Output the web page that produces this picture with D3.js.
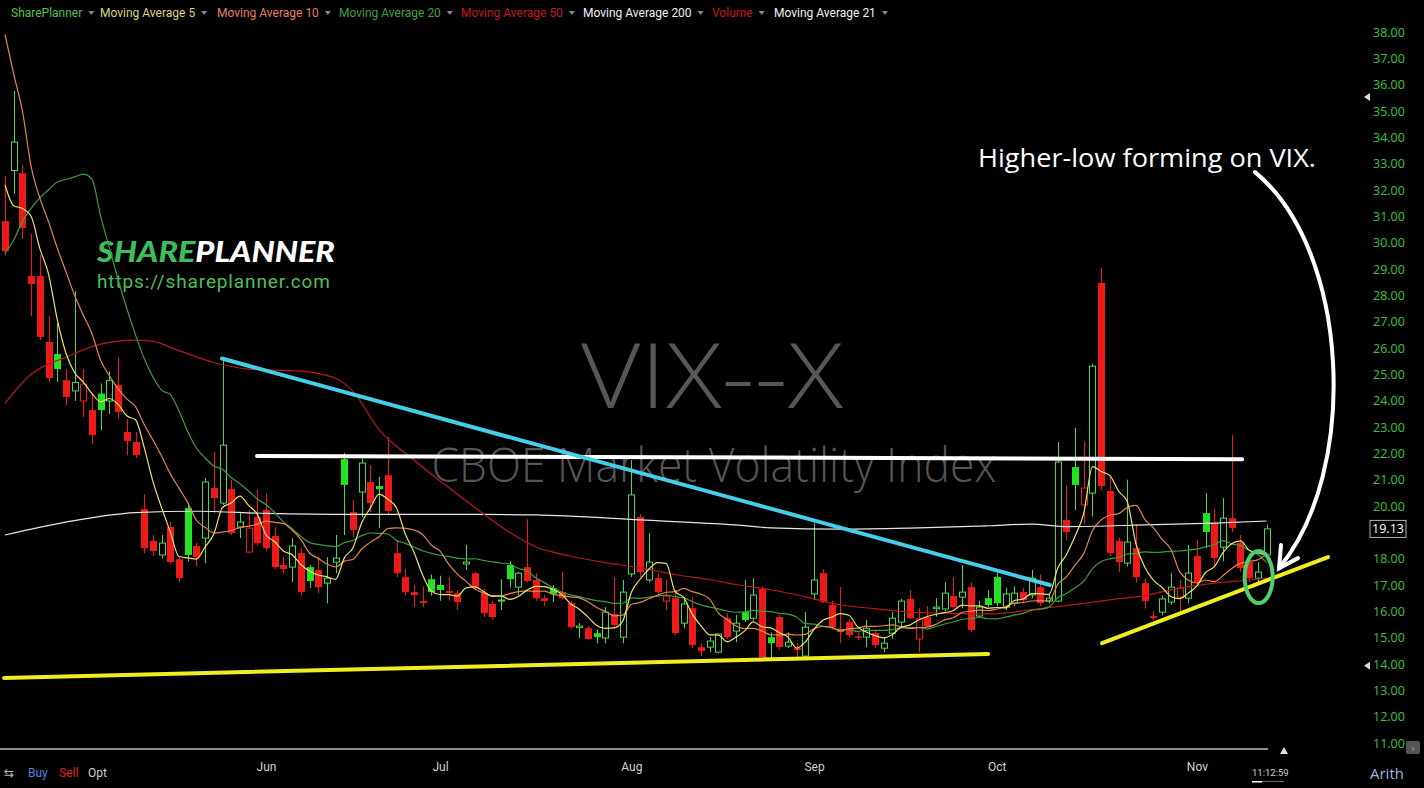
<!DOCTYPE html>
<html><head><meta charset="utf-8">
<script src="https://cdn.jsdelivr.net/npm/d3@7"></script>
<style>
html,body{margin:0;padding:0;background:#000;overflow:hidden;}
svg{display:block;}
</style></head><body>
<svg id="chart" width="1424" height="788"></svg>
<script>
// ---------------- DATA ----------------
const opens = [30.82,32.74,32.64,28.73,28.73,26.23,25.77,24.78,24.37,23.99,
23.64,24.27,23.99,24.59,22.81,22.43,19.88,18.67,18.14,19.20,
17.98,19.92,18.48,18.78,20.68,20.11,20.64,19.20,18.25,19.58,
19.85,18.86,17.76,17.68,18.21,17.68,17.57,17.07,17.87,21.78,
19.77,20.53,20.91,20.76,21.17,18.21,17.30,16.73,16.39,17.22,
17.00,16.77,16.69,17.80,17.45,16.69,16.28,16.39,17.76,16.92,
17.68,17.19,16.50,16.88,16.73,16.31,15.38,15.36,15.17,14.99,
15.90,15.02,17.42,19.58,17.19,17.26,16.39,16.50,15.55,16.12,
14.64,14.64,14.45,15.74,15.25,15.97,15.74,16.85,15.02,15.78,
14.68,14.60,14.30,16.66,17.45,16.24,15.33,15.59,15.05,15.02,
15.17,14.60,15.17,15.59,16.47,14.95,15.78,16.10,16.09,16.58,
16.54,16.92,15.82,16.50,17.30,16.16,16.31,16.73,16.62,16.92,
16.39,16.39,19.47,21.48,20.04,20.49,28.47,20.57,18.67,17.83,
18.40,17.07,15.82,15.97,16.35,16.54,16.50,18.10,19.73,19.35,
18.44,19.54,18.59,17.87,17.26,18.14];
const highs = [32.53,35.76,32.95,30.33,29.53,27.21,26.95,25.20,28.16,25.20,
24.25,24.65,25.12,25.66,23.30,22.81,20.45,18.90,18.90,19.40,
18.10,20.10,18.60,21.06,22.05,25.60,20.99,19.77,19.85,20.61,
20.49,19.20,18.06,18.78,18.40,17.76,18.06,18.06,18.90,22.01,
20.23,21.80,21.55,21.10,22.62,18.70,17.60,17.00,16.95,17.40,
17.35,17.30,16.80,18.52,17.50,16.85,16.40,17.22,17.90,17.50,
19.50,17.45,16.62,17.00,17.50,16.40,15.55,15.45,15.30,16.16,
17.30,17.19,21.74,19.70,18.97,17.45,17.19,16.80,16.54,16.54,
14.79,15.02,15.14,15.93,15.86,17.19,17.26,16.95,15.20,15.86,
15.20,14.79,15.97,19.35,17.60,16.40,16.92,15.70,15.20,15.67,
15.30,15.02,15.97,16.47,16.81,16.12,16.20,16.50,17.11,17.30,
17.76,17.10,16.40,16.80,17.50,16.90,16.95,16.90,17.57,17.40,
16.70,22.43,20.80,22.96,22.43,25.40,29.04,21.10,18.80,21.00,
19.30,17.25,16.00,16.60,17.45,17.20,18.52,18.70,20.49,19.90,
20.30,22.69,18.90,18.00,17.87,19.30];
const lows = [29.50,31.85,30.14,27.21,26.30,24.70,24.71,23.83,23.99,23.38,
22.35,22.88,23.49,23.30,21.93,21.82,18.21,18.10,18.00,17.80,
17.11,17.90,17.72,17.83,19.73,20.04,18.90,18.78,18.20,18.50,
18.30,17.60,17.45,17.11,16.60,16.88,16.69,16.31,17.45,18.90,
18.82,19.58,19.77,19.16,19.70,17.30,16.60,16.16,16.16,16.60,
16.40,16.40,16.05,17.57,16.85,15.78,15.70,16.05,16.90,16.62,
17.10,16.40,16.20,16.35,16.45,15.35,14.99,14.90,14.79,14.79,
15.40,14.79,17.30,17.30,17.10,16.60,16.05,15.10,15.35,14.60,
14.30,14.45,14.40,14.95,14.83,15.60,15.65,14.20,14.22,14.55,
14.60,14.26,14.26,16.43,16.30,15.30,14.79,15.00,14.90,14.64,
14.60,14.45,14.95,15.40,15.70,14.45,15.40,15.80,16.00,16.10,
16.12,15.20,15.75,16.15,16.20,16.05,16.20,16.30,16.50,16.20,
16.30,16.35,18.70,19.85,19.30,19.60,20.60,18.10,17.50,17.70,
17.10,16.10,15.65,15.85,16.25,16.00,16.30,17.00,18.40,17.70,
17.90,19.00,17.50,17.10,17.10,18.10];
const closes = [29.68,33.82,30.56,28.43,26.42,24.86,25.20,24.14,24.69,24.63,
22.69,23.64,24.76,23.57,22.47,21.93,18.40,18.29,18.59,17.87,
17.26,18.14,18.06,20.91,20.30,22.31,18.97,19.39,19.16,18.59,
18.40,17.68,17.61,18.48,16.73,17.15,16.92,17.26,18.02,20.80,
19.09,21.63,20.11,20.64,19.81,17.45,16.73,16.62,16.31,16.73,
16.81,16.70,16.35,17.87,16.92,15.93,15.78,16.43,17.22,17.45,
17.15,16.50,16.39,16.66,16.50,15.40,15.44,14.95,15.02,15.97,
15.48,16.73,20.42,17.49,17.87,16.73,16.58,15.17,16.28,14.72,
14.49,14.87,15.14,15.02,15.55,15.67,16.62,14.22,14.79,14.64,
14.83,14.53,15.40,17.19,16.35,15.40,15.21,15.10,15.00,15.36,
14.72,14.79,15.74,16.39,15.74,15.71,15.44,16.16,16.69,16.16,
16.73,15.29,16.16,16.24,16.31,16.66,16.69,16.43,17.26,16.31,
16.50,21.67,19.01,20.80,20.68,25.31,20.76,18.21,17.87,18.63,
17.30,16.39,15.74,16.47,16.92,16.88,17.45,17.11,19.01,18.02,
19.54,19.16,17.64,17.26,17.49,19.13];

const monthTickIdx = [30, 50, 72, 93, 114, 137];
const monthLabels  = ["Jun", "Jul", "Aug", "Sep", "Oct", "Nov"];
const priceTicks   = d3.range(11, 39);
const lastPrice    = 19.13;

// moving-average lead-in values (before a full window exists)
const ma5Lead  = [32.2, 31.4, 31.3, 31.0];
const ma10Lead = [37.9, 36.4, 35.0, 32.9, 31.7, 30.8, 29.8, 28.9, 28.0];
const ma20Lead = [29.6, 30.1, 30.8, 31.3, 31.7, 32.0, 32.3, 32.4, 32.5, 32.6,
                  32.4, 31.0, 29.8, 28.6, 27.5, 26.5, 25.6, 24.9, 24.4];
// 50 and 200 day averages (bar index, value)
const ma50Idx = [0,3,7,11,15,17,20,24,28,34,38,40,43,47,51,55,58,61,65,69,73,77,81,84,88,92,96,100,104,108,113,119,124,128,131,135,139,143,145];
const ma50Val = [23.9,25.0,25.65,26.15,26.3,26.25,25.9,25.45,25.2,25.12,24.85,24.35,22.9,21.75,20.7,19.7,19.0,18.45,18.1,17.85,17.65,17.4,17.2,17.02,16.82,16.55,16.25,16.1,15.97,15.93,15.9,16.1,16.3,16.48,16.6,16.88,17.07,17.19,17.26];
const ma200Idx = [0,7,15,22,30,40,55,61,73,84,88,96,104,113,118,122,131,139,145];
const ma200Val = [18.9,19.39,19.75,19.8,19.72,19.68,19.68,19.66,19.47,19.28,19.17,19.12,19.16,19.25,19.31,19.22,19.28,19.35,19.43];

// drawn annotations (bar index, price)
const cyanLine   = [[24.94, 25.60], [120.1, 17.0]];
const whiteLine  = [[28.97, 21.90], [142.2, 21.78]];
const yellowLow  = [[-0.1, 13.47], [113.0, 14.38]];
const yellowHigh = [[126.1, 14.79], [152.07, 18.06]];
const circleAt   = [144.1, 17.3];
const arrowCurve = [[143.68, 32.68], [154.6, 29.72], [155.75, 21.36], [146.44, 17.64]];
const arrowHead  = [[146.67, 18.52], [146.44, 17.64], [148.62, 18.02]];

const legendItems  = ["SharePlanner","Moving Average 5","Moving Average 10","Moving Average 20","Moving Average 50","Moving Average 200","Volume","Moving Average 21"];
const legendColors = ["#5cbf4c","#d8d67a","#e0805c","#3f9f3f","#c3191c","#f2f2f2","#c8191c","#f2f2f2"];
const legendX      = [11, 100, 217, 339, 461, 583, 712, 774];

// ---------------- SCALES ----------------
const svg = d3.select("#chart");
const x = d3.scaleLinear().domain([0, 145]).range([5, 1266.5]);
const y = d3.scaleLinear().domain([11, 38]).range([743, 32]);

svg.append("rect").attr("width",1424).attr("height",788).attr("fill","#000");

// watermarks
svg.append("text").attr("x",712).attr("y",408).attr("text-anchor","middle")
  .attr("fill","#575757").style("font-family","'Open Sans', 'DejaVu Sans', sans-serif")
  .style("font-size","90px").style("font-weight","300").attr("textLength",262).attr("lengthAdjust","spacingAndGlyphs").text("VIX--X");
svg.append("text").attr("x",714).attr("y",482).attr("text-anchor","middle")
  .attr("fill","#555").style("font-family","'Open Sans', 'DejaVu Sans', sans-serif")
  .style("font-size","47px").style("font-weight","300").attr("textLength",565).attr("lengthAdjust","spacingAndGlyphs").text("CBOE Market Volatility Index");

// logo
const logo = svg.append("text").attr("x",97).attr("y",262)
  .style("font-family","Lato, 'Open Sans', sans-serif").style("font-size","28px")
  .style("font-weight","900").style("font-style","italic").attr("textLength",238).attr("lengthAdjust","spacingAndGlyphs");
logo.append("tspan").attr("fill","#3fbf5c").text("SHARE");
logo.append("tspan").attr("fill","#ffffff").text("PLANNER");
svg.append("text").attr("x",97).attr("y",288).attr("fill","#4fbf5a")
  .style("font-family","Roboto, 'Liberation Sans', sans-serif").style("font-size","19px")
  .attr("textLength",233).text("https://shareplanner.com");

// ---------------- CANDLES ----------------
const green = "#22e322", greenLine = "#4fd84f", red = "#ee1a1a";
const candles = svg.append("g");
closes.forEach((c, i) => {
  const o = opens[i], h = highs[i], l = lows[i];
  const up = i === 0 ? c >= o : c >= closes[i - 1];
  const hollow = c > o;
  const col = up ? (hollow ? greenLine : green) : red;
  const cx = Math.round(x(i)) + 0.5;
  candles.append("line").attr("x1",cx).attr("x2",cx).attr("y1",y(h)).attr("y2",y(l))
    .attr("stroke", up ? greenLine : red).attr("stroke-width",1);
  const top = y(Math.max(o, c)), bot = y(Math.min(o, c));
  if (hollow) {
    candles.append("rect").attr("x",cx-3).attr("y",top).attr("width",6).attr("height",Math.max(1,bot-top))
      .attr("fill","#000").attr("stroke",col).attr("stroke-width",1);
  } else {
    candles.append("rect").attr("x",cx-3.5).attr("y",top).attr("width",7).attr("height",Math.max(1.5,bot-top))
      .attr("fill",col);
  }
});

// ---------------- MOVING AVERAGES ----------------
function sma(n, lead) {
  return closes.map((c, i) => i < n - 1 ? lead[i] : d3.mean(closes.slice(i - n + 1, i + 1)));
}
const lineGen = d3.line().x(d => x(d[0])).y(d => y(d[1])).curve(d3.curveMonotoneX);
const maLayer = svg.append("g").attr("fill","none");
maLayer.append("path").attr("d", lineGen(ma200Idx.map((d,i)=>[d, ma200Val[i]]))).attr("stroke","#e6e6e6").attr("stroke-width",1.2);
maLayer.append("path").attr("d", lineGen(ma50Idx.map((d,i)=>[d, ma50Val[i]]))).attr("stroke","#b8191b").attr("stroke-width",1.2);
maLayer.append("path").attr("d", lineGen(sma(20, ma20Lead).map((v,i)=>[i,v]))).attr("stroke","#3c9e3c").attr("stroke-width",1.2);
maLayer.append("path").attr("d", lineGen(sma(10, ma10Lead).map((v,i)=>[i,v]))).attr("stroke","#e2874e").attr("stroke-width",1.2);
maLayer.append("path").attr("d", lineGen(sma(5, ma5Lead).map((v,i)=>[i,v]))).attr("stroke","#ece26c").attr("stroke-width",1.2);

// ---------------- ANNOTATIONS ----------------
const straight = d3.line().x(d => x(d[0])).y(d => y(d[1]));
const ann = svg.append("g").attr("fill","none").attr("stroke-linecap","round");
ann.append("path").attr("d", straight(yellowLow)).attr("stroke","#eeee22").attr("stroke-width",4);
ann.append("path").attr("d", straight(yellowHigh)).attr("stroke","#eeee22").attr("stroke-width",4);
ann.append("path").attr("d", straight(whiteLine)).attr("stroke","#ffffff").attr("stroke-width",4);
ann.append("path").attr("d", straight(cyanLine)).attr("stroke","#45cfe6").attr("stroke-width",4);
ann.append("ellipse").attr("cx", x(circleAt[0])).attr("cy", y(circleAt[1])).attr("rx",14).attr("ry",26)
  .attr("stroke","#4ccf6c").attr("stroke-width",4);
const ac = arrowCurve.map(d => [x(d[0]), y(d[1])]);
ann.append("path").attr("d", `M${ac[0]}C${ac[1]} ${ac[2]} ${ac[3]}`).attr("stroke","#fff").attr("stroke-width",4);
ann.append("path").attr("d", straight(arrowHead)).attr("stroke","#fff").attr("stroke-width",4).attr("stroke-linejoin","miter");
svg.append("text").attr("x",978).attr("y",167).attr("fill","#fff")
  .style("font-family","'Open Sans', 'Noto Sans', sans-serif").style("font-size","25px")
  .attr("textLength",338).attr("lengthAdjust","spacingAndGlyphs").text("Higher-low forming on VIX.");

// ---------------- AXES ----------------
// the tick hidden behind the last-price box is left out
const shownTicks = priceTicks.filter(v => Math.abs(y(v) - y(lastPrice)) > 12);
const yAxis = d3.axisRight(y).tickValues(shownTicks).tickFormat(d3.format(".2f")).tickSize(0).tickPadding(0);
const ya = svg.append("g").attr("transform","translate(1373,0)").call(yAxis);
ya.select(".domain").remove();
ya.selectAll("text").attr("fill","#3cc43c").style("font-family","'Open Sans', 'Liberation Sans', sans-serif").style("font-size","12.5px");

// last price box
const lp = svg.append("g").attr("transform",`translate(1370,${y(lastPrice)})`);
lp.append("rect").attr("x",0).attr("y",-8.5).attr("width",36).attr("height",17).attr("fill","#000").attr("stroke","#b0b0b0");
lp.append("text").attr("x",18).attr("y",0).attr("dy","0.35em").attr("text-anchor","middle").attr("fill","#fff")
  .style("font-family","'Open Sans', 'Liberation Sans', sans-serif").style("font-size","12.5px").text(d3.format(".2f")(lastPrice));

// hi / lo markers on axis
[d3.max(highs), d3.min(lows)].forEach((v, k) => {
  const yy = y(v) + (k === 0 ? 6 : 7);
  svg.append("path").attr("d", `M1364,${yy}L1370,${yy-4}L1370,${yy+4}Z`).attr("fill","#ddd");
});

const xAxis = d3.axisBottom(x).tickValues(monthTickIdx).tickFormat((d, i) => monthLabels[i]).tickSize(0).tickPadding(0);
const xa = svg.append("g").attr("transform","translate(0,762)").call(xAxis);
xa.select(".domain").remove();
xa.selectAll("text").attr("fill","#d2d2d2").style("font-family","Roboto, 'Liberation Sans', sans-serif").style("font-size","12px");

// scrollbar line + marker
svg.append("rect").attr("x",0).attr("y",748).attr("width",1268).attr("height",2).attr("fill","#8c8c8c");
svg.append("path").attr("d","M1284,747L1288,754L1280,754Z").attr("fill","#ddd");

// bottom-left controls
const bl = svg.append("g").style("font-family","Roboto, 'Liberation Sans', sans-serif").style("font-size","12px");
bl.append("text").attr("x",4).attr("y",777).attr("fill","#bbb").style("font-family","'DejaVu Sans'").style("font-size","12px").text("⇆");
bl.append("text").attr("x",28).attr("y",777).attr("fill","#4d86e8").text("Buy");
bl.append("text").attr("x",59).attr("y",777).attr("fill","#e22020").text("Sell");
bl.append("text").attr("x",88).attr("y",777).attr("fill","#cfcfcf").text("Opt");

// clock and scale type
svg.append("text").attr("x",1252).attr("y",776).attr("fill","#d0d0d0").style("font-family","Roboto, sans-serif").style("font-size","9.5px").text("11:12:59");
svg.append("rect").attr("x",1252).attr("y",781).attr("width",32).attr("height",1).attr("fill","#666");
svg.append("rect").attr("x",1252).attr("y",781).attr("width",10).attr("height",1.5).attr("fill","#fff");
svg.append("text").attr("x",1370).attr("y",779).attr("fill","#9bb9de").style("font-family","'Open Sans', sans-serif").style("font-size","15px").text("Arith");
svg.append("rect").attr("x",1406).attr("y",741).attr("width",14).attr("height",13).attr("rx",2).attr("fill","#555");
svg.append("text").attr("x",1413).attr("y",752).attr("text-anchor","middle").attr("fill","#999").style("font-family","'DejaVu Sans'").style("font-size","11px").text("›");

// ---------------- LEGEND ----------------
const lg = svg.append("g").style("font-family","Roboto, 'Liberation Sans', sans-serif").style("font-size","12px");
legendItems.forEach((t, i) => {
  const tx = lg.append("text").attr("x", legendX[i]).attr("y", 17).attr("fill", legendColors[i]).text(t);
  const w = tx.node().getComputedTextLength();
  lg.append("path").attr("d", `M${legendX[i]+w+6},11L${legendX[i]+w+12},11L${legendX[i]+w+9},15Z`).attr("fill","#8a8a8a");
});
</script>
</body></html>
